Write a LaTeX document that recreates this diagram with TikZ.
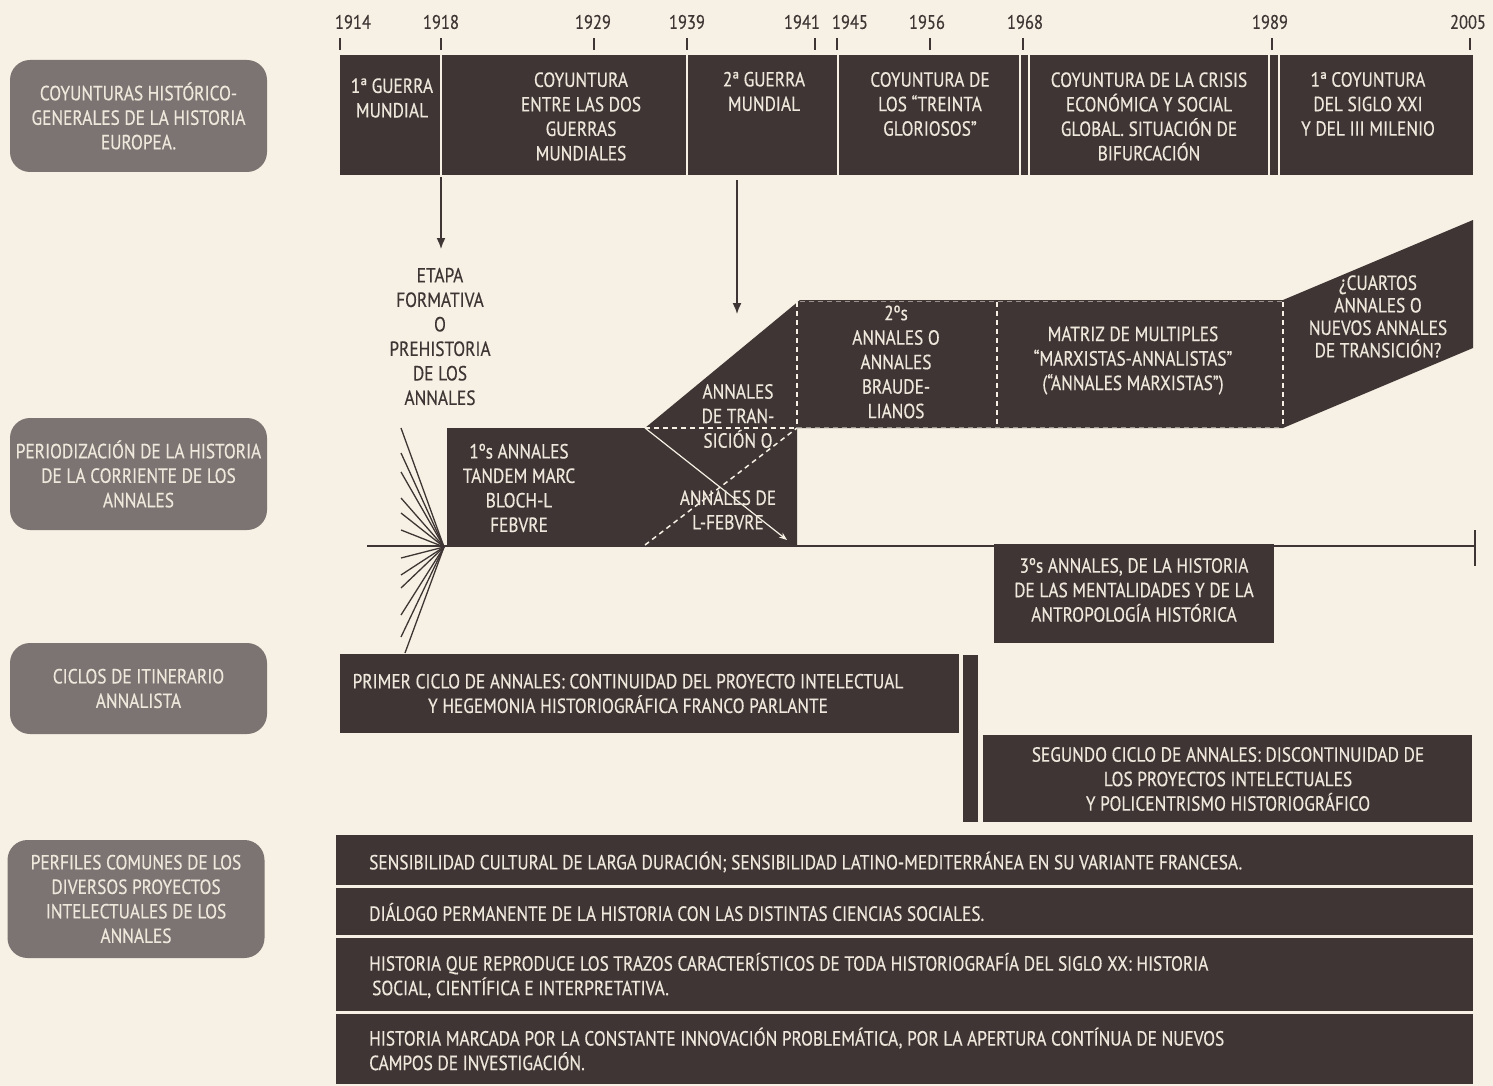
\documentclass[tikz,border=0pt]{standalone}
\usepackage{fontspec}
\setmainfont{PT Sans}[FakeStretch=0.845, FakeBold=0.4]
\usetikzlibrary{arrows.meta}

\definecolor{paper}{RGB}{246,241,228}
\definecolor{ink}{RGB}{62,53,52}
\definecolor{tag}{RGB}{124,116,114}
\definecolor{pale}{RGB}{238,232,220}

\tikzset{
  tagbox/.style={fill=tag, rounded corners=20pt, minimum width=257pt, text=pale, align=center, inner sep=0pt, font=\fontsize{20.5}{24.5}\selectfont},
  txt/.style={text=pale, align=center, inner sep=0pt, font=\fontsize{20.5}{24.5}\selectfont},
  rowtxt/.style={txt, align=left, anchor=west},
  yr/.style={text=ink, inner sep=0pt, font=\fontsize{19.5}{22}\selectfont},
  tick/.style={ink, line width=2pt},
  gap/.style={paper, line width=2.5pt},
  seam/.style={paper, line width=1.5pt, dash pattern=on 5pt off 4pt},
  arr/.style={ink, line width=1.5pt, -{Latex[length=11pt,width=9pt]}},
  fan/.style={ink, line width=1.3pt},
}

\begin{document}
\begin{tikzpicture}[x=1pt,y=-1pt]
\fill[paper] (0,0) rectangle (1493,1086);
\useasboundingbox (0,0) rectangle (1493,1086);

% years
\foreach \yr/\tx/\lx in {1914/340/353,1918/441/441,1929/594/593,1939/687/687,1941/815/802,1945/837/850,1956/930/927,1968/1023/1025,1989/1272/1270,2005/1470/1468}{
  \draw[tick] (\tx,38) -- (\tx,50);
  \node[yr] (y\yr) at (\lx,22) {\yr};
}

% coyunturas
\fill[ink] (340,55) rectangle (1473,175);
\foreach \x in {441,687,838,1020,1029,1269,1279} \draw[gap] (\x,55) -- (\x,175);
\node[txt] (guerra1) at (392,98) {1ª GUERRA\\MUNDIAL};
\node[txt] (entre) at (581,116.5) {COYUNTURA\\ENTRE LAS DOS\\GUERRAS\\MUNDIALES};
\node[txt] (guerra2) at (764,91.5) {2ª GUERRA\\MUNDIAL};
\node[txt] (treinta) at (930,104) {COYUNTURA DE\\LOS ``TREINTA\\GLORIOSOS''};
\node[txt] (crisis) at (1149,116.5) {COYUNTURA DE LA CRISIS\\ECONÓMICA Y SOCIAL\\GLOBAL. SITUACIÓN DE\\BIFURCACIÓN};
\node[txt] (siglo) at (1368,104) {1ª COYUNTURA\\DEL SIGLO XXI\\Y DEL III MILENIO};

% row labels
\node[tagbox, minimum height=112pt] (lab1) at (138.5,116) {COYUNTURAS HISTÓRICO-\\GENERALES DE LA HISTORIA\\EUROPEA.};
\node[tagbox, minimum height=112pt] (lab2) at (138.5,474) {PERIODIZACIÓN DE LA HISTORIA\\DE LA CORRIENTE DE LOS\\ANNALES};
\node[tagbox, minimum height=91pt] (lab3) at (138.5,688.5) {CICLOS DE ITINERARIO\\ANNALISTA};
\node[tagbox, minimum height=118pt] (lab4) at (136,899) {PERFILES COMUNES DE LOS\\DIVERSOS PROYECTOS\\INTELECTUALES DE LOS\\ANNALES};

% arrows down
\coordinate (from1918) at (441,177);
\coordinate (to1918) at (441,249);
\draw[arr] (from1918) -- (to1918);
\coordinate (from1939) at (737,180);
\coordinate (to1939) at (737,314);
\draw[arr] (from1939) -- (to1939);
\node[txt, text=ink] (etapa) at (440,336.5) {ETAPA\\FORMATIVA\\O\\PREHISTORIA\\DE LOS\\ANNALES};

% timeline and fan
\coordinate (tl0) at (367,546);
\coordinate (tl1) at (1475,546);
\coordinate (hub) at (444,547);
\draw[ink, line width=1.5pt] (tl0) -- (tl1);
\draw[ink, line width=1.5pt] (1475,530) -- (1475,566);
\foreach \y in {428,453,472,498,513,530,558,575,588,615,637} \draw[fan] (401,\y) -- (hub);
\draw[fan] (405,653) -- (hub);

% periodizacion
\fill[ink] (447,428) -- (645,428) -- (800,300) -- (1283,300) -- (1473,220) -- (1473,348) -- (1283,428) -- (797,428) -- (797,545) -- (447,545) -- cycle;
\draw[seam] (645,428) -- (797,428);
\draw[seam] (797,302) -- (797,428);
\draw[seam] (645,545) -- (797,428);
\draw[seam] (997,302) -- (997,426);
\draw[seam] (1283,302) -- (1283,426);
\draw[seam, line width=0.7pt, opacity=0.5] (800,301) -- (1283,301);
\draw[seam, line width=0.7pt, opacity=0.5] (797,427) -- (1283,427);
\coordinate (split) at (645,428);
\coordinate (febtip) at (787,540);
\draw[paper, line width=1.2pt, -{Stealth[length=8pt,width=6pt]}] (split) -- (febtip);

\node[txt] (annales1) at (519,488) {1ºs ANNALES\\TANDEM MARC\\BLOCH-L\\FEBVRE};
\node[txt] (transicion) at (738,416) {ANNALES\\DE TRAN-\\SICIÓN O};
\node[txt] (febvre) at (728,510) {ANNALES DE\\L-FEBVRE};
\node[txt] (annales2) at (896,362) {2ºs\\ANNALES O\\ANNALES\\BRAUDE-\\LIANOS};
\node[txt] (matriz) at (1133,360.5) {MATRIZ DE MULTIPLES\\``MARXISTAS-ANNALISTAS''\\(``ANNALES MARXISTAS'')};
\node[txt, font=\fontsize{20.5}{22.5}\selectfont] (cuartos) at (1378,316.5) {¿CUARTOS\\ANNALES O\\NUEVOS ANNALES\\DE TRANSICIÓN?};

\fill[ink] (994,544) rectangle (1274,643);
\node[txt] (annales3) at (1134,590) {3ºs ANNALES, DE LA HISTORIA\\DE LAS MENTALIDADES Y DE LA\\ANTROPOLOGÍA HISTÓRICA};

% ciclos
\fill[ink] (340,654) rectangle (959,733);
\fill[ink] (963,655) rectangle (978,822);
\fill[ink] (983,735) rectangle (1472,822);
\node[txt] (ciclo1) at (628,693.5) {PRIMER CICLO DE ANNALES: CONTINUIDAD DEL PROYECTO INTELECTUAL\\Y HEGEMONIA HISTORIOGRÁFICA FRANCO PARLANTE};
\node[txt] (ciclo2) at (1228,779) {SEGUNDO CICLO DE ANNALES: DISCONTINUIDAD DE\\LOS PROYECTOS INTELECTUALES\\Y POLICENTRISMO HISTORIOGRÁFICO};

% perfiles
\fill[ink] (336,835) rectangle (1473,1084);
\foreach \y in {886,936,1012} \draw[gap, line width=3pt] (336,\y) -- (1473,\y);
\node[rowtxt] (perfil1) at (369,862) {SENSIBILIDAD CULTURAL DE LARGA DURACIÓN; SENSIBILIDAD LATINO-MEDITERRÁNEA EN SU VARIANTE FRANCESA.};
\node[rowtxt] (perfil2) at (369,912) {DIÁLOGO PERMANENTE DE LA HISTORIA CON LAS DISTINTAS CIENCIAS SOCIALES.};
\node[rowtxt] (perfil3) at (369,975.5) {HISTORIA QUE REPRODUCE LOS TRAZOS CARACTERÍSTICOS DE TODA HISTORIOGRAFÍA DEL SIGLO XX: HISTORIA\\\hspace*{3pt}SOCIAL, CIENTÍFICA E INTERPRETATIVA.};
\node[rowtxt] (perfil4) at (369,1049) {HISTORIA MARCADA POR LA CONSTANTE INNOVACIÓN PROBLEMÁTICA, POR LA APERTURA CONTÍNUA DE NUEVOS\\CAMPOS DE INVESTIGACIÓN.};
\end{tikzpicture}
\end{document}
